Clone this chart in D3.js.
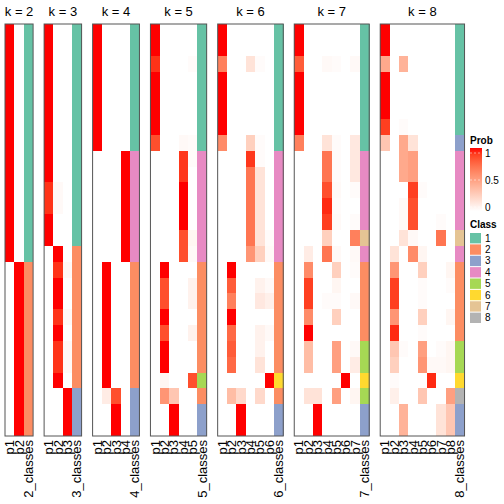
<!DOCTYPE html>
<html><head><meta charset="utf-8">
<script src="https://cdn.jsdelivr.net/npm/d3@7"></script>
<style>body{margin:0;background:#fff}svg{display:block}text{font-family:"Liberation Sans",Arial,sans-serif}</style>
</head><body>
<script>
const ks = [2,3,4,5,6,7,8];
const nRows = 26;

// membership probabilities per row (p1..pk) for each k
const probK2 = [
 [1,0],[1,0],[1,0],[1,0],[1,0],[1,0],[1,0],[1,0],[1,0],[1,0],[1,0],[1,0],[1,0],[1,0],[1,0],
 [0,1],[0,1],[0,1],[0,1],[0,1],[0,1],[0,1],[0,1],[0,1],[0,1],[0,1]];
const classK2 = [1,1,1,1,1,1,1,1,1,1,1,1,1,1,1,2,2,2,2,2,2,2,2,2,2,2];

const probK3 = [
 [1,0,0],[1,0,0],[1,0,0],[1,0,0],[1,0,0],[1,0,0],[1,0,0],[1,0,0],[1,0,0],[1,0,0],
 [0.93,0.03,0],[0.93,0.03,0],[1,0,0],[1,0,0],
 [0,1,0],[0,0.93,0.03],[0,1,0],[0,1,0],[0,0.93,0.03],[0,1,0],[0,0.93,0.03],[0,0.93,0.03],[0,1,0],
 [0,0,1],[0,0,1],[0,0,1]];
const classK3 = [1,1,1,1,1,1,1,1,1,1,1,1,1,1,2,2,2,2,2,2,2,2,2,3,3,3];

const probK4 = [
 [1,0,0,0],[1,0,0,0],[1,0,0,0],[1,0,0,0],[1,0,0,0],[1,0,0,0],[1,0,0,0],[1,0,0,0],
 [0,0,0,1],[0,0,0,1],[0,0,0,1],[0,0,0,1],[0,0,0,1],[0,0,0,1],[0,0,0,1],
 [0,1,0,0],[0,1,0,0],[0,1,0,0],[0,1,0,0],[0,1,0,0],[0,1,0,0],[0,1,0,0],[0,1,0,0],
 [0,0.1,0.85,0],[0,0,1,0],[0,0,1,0]];
const classK4 = [1,1,1,1,1,1,1,1,4,4,4,4,4,4,4,2,2,2,2,2,2,2,2,3,3,3];

const probK5 = [
 [1,0,0,0,0],[1,0,0,0,0],[0.93,0,0,0,0.02],[1,0,0,0,0],[1,0,0,0,0],[1,0,0,0,0],[1,0,0,0,0],[0.85,0,0,0.03,0.02],
 [0,0,0,0.92,0.02],[0,0,0,0.92,0],[0,0,0,1,0],[0,0,0,1,0],[0,0,0,1,0],[0,0,0,0.85,0.05],[0,0,0,0.85,0.03],
 [0,1,0,0,0],[0,0.85,0,0,0.07],[0,0.85,0,0,0.07],[0,1,0,0,0],[0,0.85,0,0,0.07],[0,1,0,0,0],[0,1,0,0,0],
 [0,0.05,0,0,0.85],[0,0.55,0.3,0,0],[0,0,1,0,0],[0,0,1,0,0]];
const classK5 = [1,1,1,1,1,1,1,1,4,4,4,4,4,4,4,2,2,2,2,2,2,2,5,2,3,3];

const probK6 = [
 [1,0,0,0,0,0],[1,0,0,0,0,0],[0.65,0,0,0.15,0.02,0],[1,0,0,0,0,0],[1,0,0,0,0,0],[1,0,0,0,0,0],[1,0,0,0,0,0],[0.6,0,0,0.25,0.02,0],
 [0,0,0,0.92,0.02,0],[0,0,0,0.7,0.15,0],[0,0,0,0.7,0.15,0],[0,0,0,0.7,0.15,0],[0,0,0,0.7,0.15,0],[0,0,0,0.7,0.15,0.02],[0,0,0,0.55,0.25,0.03],
 [0,1,0,0,0,0],[0,0.8,0,0,0.07,0.03],[0,0.65,0,0,0.12,0.08],[0,1,0,0,0,0],[0,0.75,0,0,0.07,0.03],[0,0.8,0,0,0.07,0],[0,0.75,0,0,0.15,0],
 [0,0,0,0,0,1],[0,0.35,0.2,0,0.2,0],[0,0,1,0,0,0],[0,0,1,0,0,0]];
const classK6 = [1,1,1,1,1,1,1,1,4,4,4,4,4,4,4,2,2,2,2,2,2,2,6,2,3,3];

const probK7 = [
 [1,0,0,0,0,0,0],[1,0,0,0,0,0,0],[0.8,0,0,0.03,0.02,0,0.03],[1,0,0,0,0,0,0],[1,0,0,0,0,0,0],[1,0,0,0,0,0,0],[1,0,0,0,0,0,0],[0.65,0,0,0.15,0.02,0,0.12],
 [0,0,0,0.7,0.02,0,0.12],[0,0,0,0.7,0.02,0,0.12],[0,0,0,0.85,0.03,0,0.02],[0,0,0,0.95,0.02,0,0],[0,0,0,0.9,0.03,0,0.02],
 [0,0,0,0.25,0,0,0.65],[0,0.1,0,0.7,0.03,0,0.03],
 [0,0.6,0,0,0.25,0,0.02],[0,0.9,0,0,0.05,0,0],[0,0.9,0,0.02,0.02,0,0.03],[0,0.6,0,0,0.25,0,0],[0,1,0,0,0,0,0],
 [0,0.35,0,0,0.5,0,0.03],[0,0.35,0,0,0.5,0,0.1],[0,0,0,0,0,1,0],[0,0.15,0.15,0,0.5,0,0.05],
 [0,0,1,0,0,0,0],[0,0,1,0,0,0,0]];
const classK7 = [1,1,1,1,1,1,1,1,4,4,4,4,4,7,4,2,2,2,2,2,5,5,6,5,3,3];

const probK8 = [
 [1,0,0,0,0,0,0,0],[1,0,0,0,0,0,0,0],[0.45,0,0.4,0,0,0,0,0],[1,0,0,0,0,0,0,0],[1,0,0,0,0,0,0,0],[1,0,0,0,0,0,0,0],[0.9,0,0.02,0,0,0,0,0],
 [0.3,0,0.45,0.15,0,0,0,0],
 [0,0,0.45,0.5,0,0,0,0],[0,0,0.45,0.5,0,0,0,0],[0,0,0,0.9,0.02,0,0,0],[0,0,0.03,0.85,0,0,0,0],[0,0,0.03,0.85,0,0,0.02,0],
 [0,0,0.15,0.03,0,0,0.7,0],[0,0.15,0,0.6,0.05,0,0,0],
 [0,0.55,0,0,0.25,0,0,0.05],[0,0.9,0,0,0.02,0,0,0.02],[0,0.9,0,0,0.02,0,0,0],[0,0.55,0,0,0.25,0,0,0.05],[0,0.95,0,0,0.02,0,0,0],
 [0,0.3,0.02,0,0.5,0,0.02,0.05],[0,0.25,0,0,0.55,0.03,0.03,0.05],[0,0.02,0,0,0,0.95,0,0],[0,0.08,0,0,0.3,0,0,0.5],
 [0,0,0.4,0,0,0,0.15,0.3],[0,0,0.4,0,0,0,0.15,0.3]];
const classK8 = [1,1,1,1,1,1,1,3,4,4,4,4,4,7,4,2,2,2,2,2,5,5,6,8,3,3];

const probByK = {2:probK2,3:probK3,4:probK4,5:probK5,6:probK6,7:probK7,8:probK8};
const classByK = {2:classK2,3:classK3,4:classK4,5:classK5,6:classK6,7:classK7,8:classK8};

const classLabels = ["1","2","3","4","5","6","7","8"];
const probTicks = [1,0.5,0];
const classPalette = ["#66C2A5","#FC8D62","#8DA0CB","#E78AC3","#A6D854","#FFD92F","#E5C494","#B3B3B3"];

const W = 504, H = 504;
const svg = d3.select("body").append("svg").attr("width",W).attr("height",H);

const probColor = d3.scaleLinear().domain([0,1]).range(["#ffffff","#ff0000"]).interpolate(d3.interpolateLab);
const classColor = d3.scaleOrdinal().domain(d3.range(1,9)).range(classPalette);

const panelTop = 24, panelBottom = 436, left0 = 5, colW = 9.37, gap = 11;
const yRow = d3.scaleBand().domain(d3.range(nRows)).range([panelTop,panelBottom]);

let x0 = left0;
ks.forEach(k => {
  const cols = d3.range(k).map(i => "p"+(i+1)).concat([k+"_classes"]);
  const w = cols.length*colW;
  const xCol = d3.scaleBand().domain(cols).range([x0, x0+w]);
  const g = svg.append("g");
  const probs = probByK[k], cls = classByK[k];
  const cells = [];
  probs.forEach((row,r) => {
    row.forEach((v,c) => cells.push({r, col: cols[c], fill: probColor(v)}));
    cells.push({r, col: cols[k], fill: classColor(cls[r])});
  });
  g.selectAll("rect.cell").data(cells).join("rect").attr("class","cell")
    .attr("x", d => xCol(d.col)).attr("y", d => yRow(d.r))
    .attr("width", xCol.bandwidth()+0.3).attr("height", yRow.bandwidth()+0.3)
    .attr("fill", d => d.fill).attr("shape-rendering","crispEdges");
  g.append("rect").attr("x", x0).attr("y", panelTop).attr("width", w).attr("height", panelBottom-panelTop)
    .attr("fill","none").attr("stroke","#555").attr("stroke-width",1);
  g.append("text").attr("x", x0+w/2).attr("y", 16).attr("text-anchor","middle")
    .attr("font-size",13).text("k = "+k);
  g.selectAll("text.lab").data(cols).join("text").attr("class","lab")
    .attr("transform", d => `translate(${xCol(d)+xCol.bandwidth()/2},${panelBottom+4}) rotate(-90)`)
    .attr("dy","0.35em").attr("text-anchor","end").attr("font-size",13).text(d => d);
  x0 += w + gap;
});

// Legend: Prob
const lx = 470;
svg.append("text").attr("x",lx).attr("y",144).attr("font-size",10).attr("font-weight","bold").text("Prob");
const defs = svg.append("defs");
const grad = defs.append("linearGradient").attr("id","pg").attr("x1",0).attr("x2",0).attr("y1",0).attr("y2",1);
d3.range(0,1.0001,0.1).forEach(t => grad.append("stop").attr("offset",t).attr("stop-color",probColor(1-t)));
const legY = d3.scaleLinear().domain([1,0]).range([153,207]);
svg.append("rect").attr("x",lx).attr("y",148).attr("width",12).attr("height",63).attr("fill","url(#pg)");
svg.selectAll("line.pt").data(probTicks).join("line").attr("class","pt")
  .attr("x1",lx).attr("x2",lx+12).attr("y1",d=>legY(d)).attr("y2",d=>legY(d))
  .attr("stroke","#fff").attr("stroke-opacity",0.5).attr("stroke-dasharray","2,2");
svg.selectAll("text.pt").data(probTicks).join("text").attr("class","pt")
  .attr("x",lx+15).attr("y",d=>legY(d)).attr("dy","0.35em").attr("font-size",10).text(d=>d);

// Legend: Class
svg.append("text").attr("x",lx).attr("y",228).attr("font-size",10).attr("font-weight","bold").text("Class");
const legC = d3.scaleBand().domain(classLabels).range([232.5, 323.5]);
svg.selectAll("rect.cl").data(classLabels).join("rect").attr("class","cl")
  .attr("x",lx).attr("y",d=>legC(d)+0.5).attr("width",11).attr("height",legC.bandwidth()-1)
  .attr("fill",(d,i)=>classColor(i+1));
svg.selectAll("text.cl").data(classLabels).join("text").attr("class","cl")
  .attr("x",lx+15).attr("y",d=>legC(d)+legC.bandwidth()/2).attr("dy","0.35em").attr("font-size",10).text(d=>d);
</script>
</body></html>
